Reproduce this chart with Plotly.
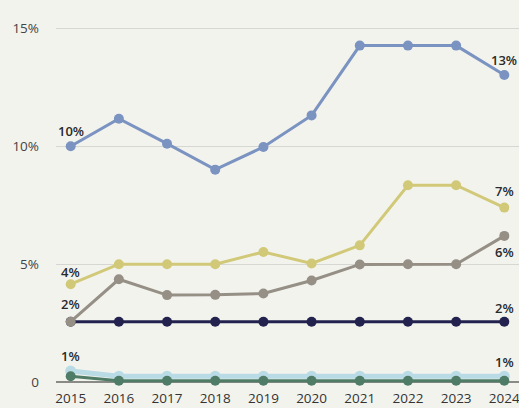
import plotly.graph_objects as go

years = [2015, 2016, 2017, 2018, 2019, 2020, 2021, 2022, 2023, 2024]

series_blue = [10.0, 11.17, 10.11, 9.01, 9.97, 11.31, 14.27, 14.27, 14.27, 13.02]
series_yellow = [4.15, 5.0, 5.0, 5.0, 5.52, 5.03, 5.8, 8.35, 8.35, 7.4]
series_gray = [2.56, 4.36, 3.69, 3.7, 3.76, 4.31, 4.99, 5.0, 5.0, 6.2]
series_navy = [2.56, 2.56, 2.56, 2.56, 2.56, 2.56, 2.56, 2.56, 2.56, 2.56]
series_lightblue = [0.47, 0.25, 0.25, 0.25, 0.25, 0.25, 0.25, 0.25, 0.25, 0.25]
series_green = [0.25, 0.06, 0.06, 0.06, 0.06, 0.06, 0.06, 0.06, 0.06, 0.06]

# end-point labels at the first and last year
labels_first = {"blue": "10%", "yellow": "4%", "gray": "2%", "lightblue": "1%"}
labels_last = {"blue": "13%", "yellow": "7%", "gray": "6%", "navy": "2%", "lightblue": "1%"}

y_tickvals = [0, 5, 10, 15]
y_ticktext = ["0", "5%", "10%", "15%"]

series = [
    ("lightblue", series_lightblue, "#b9dbe6", 5, 11),
    ("green", series_green, "#4f7c66", 3, 10),
    ("navy", series_navy, "#23224f", 3, 10),
    ("gray", series_gray, "#958f86", 3, 10),
    ("yellow", series_yellow, "#d1c978", 3, 10),
    ("blue", series_blue, "#7b93c1", 3, 10),
]

first_shift = {"blue": 15, "yellow": 12, "gray": 18, "lightblue": 15}
last_shift = {"blue": 15, "yellow": 17, "gray": -16, "navy": 14, "lightblue": 14}

fig = go.Figure()
values = {}
for name, vals, color, lw, ms in series:
    values[name] = vals
    fig.add_trace(go.Scatter(
        x=years, y=vals, mode="lines+markers",
        line=dict(color=color, width=lw),
        marker=dict(color=color, size=ms),
        cliponaxis=False, showlegend=False, hoverinfo="skip",
    ))

label_font = dict(family="Open Sans", size=13, color="#2a2a2a", weight=600)
annotations = []
for name, text in labels_first.items():
    annotations.append(dict(x=years[0], y=values[name][0], text=text, showarrow=False,
                            yshift=first_shift[name], font=label_font))
for name, text in labels_last.items():
    annotations.append(dict(x=years[-1], y=values[name][-1], text=text, showarrow=False,
                            yshift=last_shift[name], font=label_font))

fig.update_layout(
    width=519, height=408,
    margin=dict(l=56, r=0, t=10, b=20),
    paper_bgcolor="#f3f3ee", plot_bgcolor="#f3f3ee",
    annotations=annotations,
    font=dict(family="Open Sans", size=13, color="#444444"),
    xaxis=dict(
        range=[2014.695, 2024.305], tickvals=years, ticktext=[str(y) for y in years],
        showgrid=False, zeroline=False, showline=False, ticks="",
        ticklabeloverflow="allow",
        tickfont=dict(size=13.5, color="#333333"),
    ),
    yaxis=dict(
        range=[-0.25, 15.78], tickvals=y_tickvals, ticktext=y_ticktext,
        showgrid=True, gridcolor="#d6d6d2", gridwidth=1,
        zeroline=True, zerolinecolor="#8a8a86", zerolinewidth=1.5,
        ticks="", ticklabelstandoff=16,
        tickfont=dict(size=13.5, color="#444444"),
    ),
)

fig.write_html("out.html")
